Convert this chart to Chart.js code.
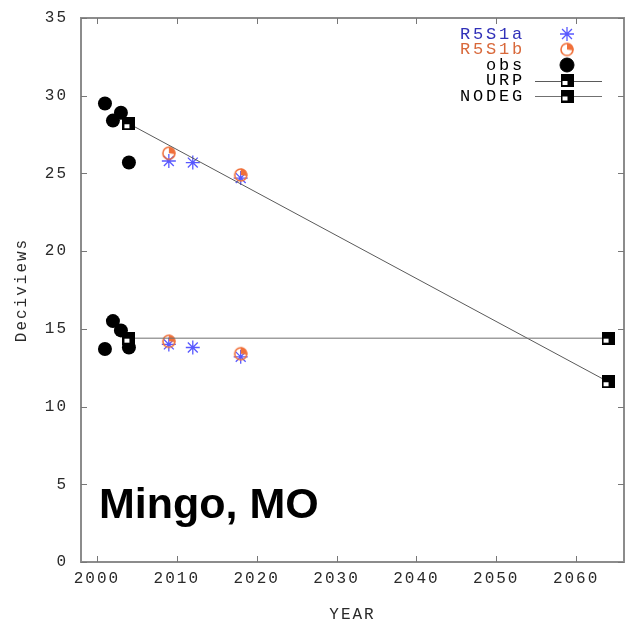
<!DOCTYPE html>
<html><head><meta charset="utf-8">
<script src="https://cdn.jsdelivr.net/npm/chart.js@4.4.0/dist/chart.umd.min.js"></script>
<style>html,body{margin:0;padding:0;background:#fff;}#wrap{width:625px;height:626px;position:relative;}canvas{display:block;}</style>
</head><body><div id="wrap"><canvas id="c" width="625" height="626"></canvas></div>
<script>
// ---- data ----
const xTickValues = [2000, 2010, 2020, 2030, 2040, 2050, 2060];
const yTickValues = [0, 5, 10, 15, 20, 25, 30, 35];
const seriesLabels = ['R5S1a', 'R5S1b', 'obs', 'URP', 'NODEG'];
const r5s1aYears = [2009, 2012, 2018, 2009, 2012, 2018];
const r5s1aValues = [25.8, 25.7, 24.7, 14.0, 13.8, 13.2];
const r5s1bYears = [2009, 2018, 2009, 2018];
const r5s1bValues = [26.3, 24.9, 14.2, 13.4];
const obsYears = [2001, 2002, 2003, 2004, 2001, 2002, 2003, 2004];
const obsValues = [29.5, 28.4, 28.9, 25.7, 13.7, 15.5, 14.9, 13.8];
const urpYears = [2004, 2064];
const urpValues = [28.2, 11.6];
const nodegYears = [2004, 2064];
const nodegValues = [14.4, 14.4];
const siteName = 'Mingo, MO';
const xTitle = 'YEAR';
const yTitle = 'Deciviews';

const pts = (xs, ys) => xs.map((x, i) => ({x: x, y: ys[i]}));
const MONO = "'Liberation Mono', 'DejaVu Sans Mono', monospace";
const BLUE = '#5858ff', BLUE_TXT = '#3030b8', ORANGE = '#f0703a', ORANGE_TXT = '#d8683a';

function makeSquare() {
  const c = document.createElement('canvas'); c.width = 13; c.height = 13;
  const g = c.getContext('2d');
  g.fillStyle = '#000'; g.fillRect(0, 0, 13, 13);
  g.fillStyle = '#fff'; g.fillRect(2, 7, 5, 4);
  return c;
}
function makePie() {
  const c = document.createElement('canvas'); c.width = 16; c.height = 16;
  const g = c.getContext('2d');
  g.strokeStyle = ORANGE; g.lineWidth = 1.6;
  g.beginPath(); g.arc(8, 8, 6, 0, Math.PI * 2); g.stroke();
  g.fillStyle = ORANGE; g.beginPath(); g.moveTo(8, 8); g.arc(8, 8, 6.5, -Math.PI / 2, 0.15); g.closePath(); g.fill();
  return c;
}
const squareImg = makeSquare();
const pieImg = makePie();

const decor = {
  id: 'decor',
  beforeUpdate(chart) { chart.ctx.letterSpacing = '2px'; },
  beforeDraw(chart) { chart.ctx.letterSpacing = '2px'; },
  afterDatasetsDraw(chart) {
    const ctx = chart.ctx, a = chart.chartArea;
    const xs = chart.scales.x, ys = chart.scales.y;
    ctx.save();
    // frame
    ctx.strokeStyle = '#8c8c8c'; ctx.lineWidth = 2;
    ctx.strokeRect(a.left, a.top, a.right - a.left, a.bottom - a.top);
    // inward ticks
    ctx.lineWidth = 1; ctx.strokeStyle = '#777';
    ctx.beginPath();
    xs.ticks.forEach(t => {
      const px = Math.round(xs.getPixelForValue(t.value)) + 0.5;
      ctx.moveTo(px, a.bottom); ctx.lineTo(px, a.bottom - 6);
      ctx.moveTo(px, a.top); ctx.lineTo(px, a.top + 6);
    });
    ys.ticks.forEach(t => {
      const py = Math.round(ys.getPixelForValue(t.value)) + 0.5;
      ctx.moveTo(a.left, py); ctx.lineTo(a.left + 6, py);
      ctx.moveTo(a.right, py); ctx.lineTo(a.right - 6, py);
    });
    ctx.stroke();
    // legend
    const rowY = [34, 49.5, 65, 80.5, 96];
    const textRight = 522, symX = 567;
    ctx.font = '17px ' + MONO; ctx.letterSpacing = '2.8px';
    ctx.textAlign = 'right'; ctx.textBaseline = 'middle';
    chart.data.datasets.forEach((ds, i) => {
      const y = rowY[i];
      ctx.fillStyle = ds.legendColor;
      ctx.fillText(ds.label, textRight + 3, y);
      if (ds.showLine) {
        ctx.strokeStyle = ds.borderColor; ctx.lineWidth = 1;
        ctx.beginPath(); ctx.moveTo(535, Math.round(y) + 0.5); ctx.lineTo(602, Math.round(y) + 0.5); ctx.stroke();
      }
      ctx.strokeStyle = ds.pointBorderColor || ds.borderColor;
      ctx.fillStyle = ds.pointBackgroundColor || ds.backgroundColor;
      ctx.lineWidth = ds.pointBorderWidth || 1;
      Chart.helpers.drawPoint(ctx, {pointStyle: ds.pointStyle, radius: ds.pointRadius, rotation: 0, borderWidth: ds.pointBorderWidth || 1}, symX, y);
    });
    // site name
    ctx.letterSpacing = '0px';
    ctx.font = "bold 43px 'Liberation Sans', Arial, sans-serif";
    ctx.textAlign = 'left'; ctx.textBaseline = 'alphabetic';
    ctx.fillStyle = '#000';
    ctx.fillText(siteName, 99, 518);
    ctx.restore();
  }
};

new Chart(document.getElementById('c'), {
  type: 'scatter',
  data: {
    datasets: [
      {label: seriesLabels[0], data: pts(r5s1aYears, r5s1aValues), pointStyle: 'star', pointRadius: 7,
       pointBorderWidth: 1.3, borderColor: BLUE, backgroundColor: BLUE, legendColor: BLUE_TXT, order: 5},
      {label: seriesLabels[1], data: pts(r5s1bYears, r5s1bValues), pointStyle: pieImg, pointRadius: 7,
       borderColor: ORANGE, backgroundColor: ORANGE, legendColor: ORANGE_TXT, order: 4},
      {label: seriesLabels[2], data: pts(obsYears, obsValues), pointStyle: 'circle', pointRadius: 7,
       pointBorderWidth: 0, borderColor: '#000', backgroundColor: '#000', legendColor: '#000', order: 3},
      {label: seriesLabels[3], data: pts(urpYears, urpValues), showLine: true, borderColor: '#5a5a5a', borderWidth: 1,
       pointStyle: squareImg, pointRadius: 6, backgroundColor: '#000', legendColor: '#000', order: 2},
      {label: seriesLabels[4], data: pts(nodegYears, nodegValues), showLine: true, borderColor: '#707070', borderWidth: 1,
       pointStyle: squareImg, pointRadius: 6, backgroundColor: '#000', legendColor: '#000', order: 1}
    ]
  },
  options: {
    responsive: false, animation: false, devicePixelRatio: 1,
    layout: {autoPadding: false, padding: {top: 18, right: 1, left: 0, bottom: 0}},
    plugins: {legend: {display: false}, tooltip: {enabled: false}},
    elements: {point: {hoverRadius: 7}},
    scales: {
      x: {
        type: 'linear', min: 1998, max: 2066,
        afterBuildTicks: s => { s.ticks = xTickValues.map(v => ({value: v})); },
        afterFit: s => { s.height = 64; s.paddingLeft = 0; s.paddingRight = 0; },
        grid: {display: false, drawTicks: false}, border: {display: false},
        ticks: {font: {family: MONO, size: 16}, color: '#2a2a2a', padding: 7, maxRotation: 0, autoSkip: false,
                callback: v => String(v)},
        title: {display: true, text: xTitle, font: {family: MONO, size: 16}, color: '#2a2a2a', padding: {top: 0, bottom: 2}}
      },
      y: {
        type: 'linear', min: 0, max: 35,
        afterBuildTicks: s => { s.ticks = yTickValues.map(v => ({value: v})); },
        afterFit: s => { s.width = 81; s.paddingTop = 0; s.paddingBottom = 0; },
        grid: {display: false, drawTicks: false}, border: {display: false},
        ticks: {font: {family: MONO, size: 16}, color: '#2a2a2a', padding: 13, autoSkip: false, callback: v => String(v)},
        title: {display: true, text: yTitle, font: {family: MONO, size: 16}, color: '#2a2a2a', padding: {top: 12, bottom: 0}}
      }
    }
  },
  plugins: [decor]
});
</script></body></html>
